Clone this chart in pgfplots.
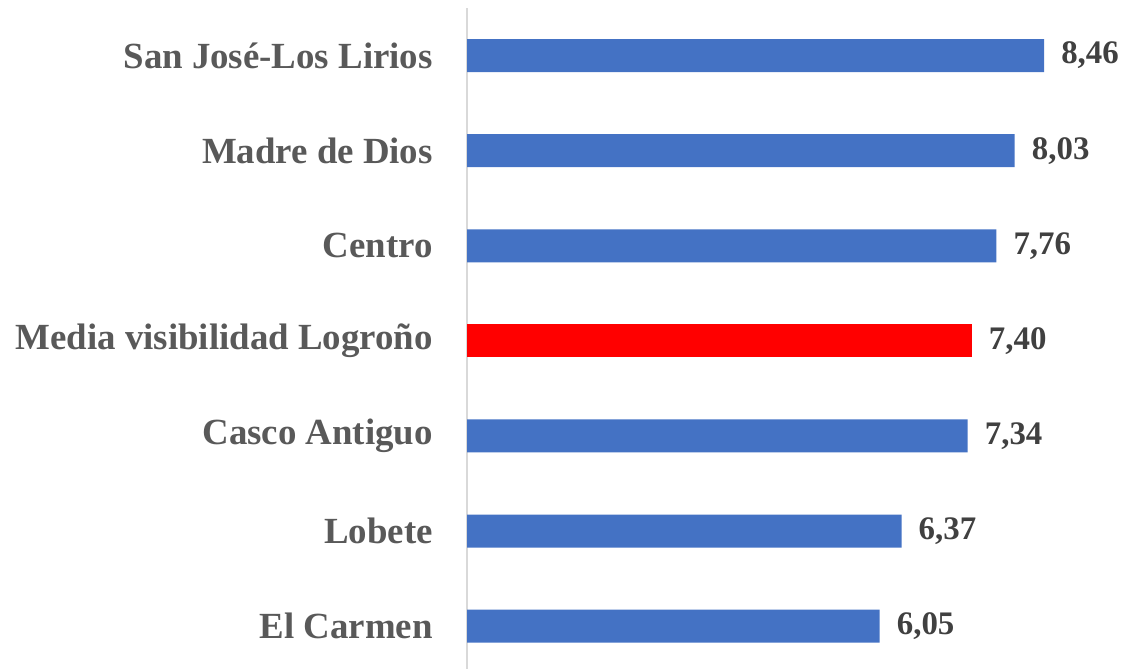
\documentclass[border=0pt]{standalone}
\usepackage{pgfplots}
\pgfplotsset{compat=1.18}
\usepackage{fontspec}
\setmainfont{Liberation Serif}
\definecolor{barblue}{HTML}{4472C4}
\definecolor{barred}{HTML}{FF0000}
\definecolor{labgray}{HTML}{595959}
\definecolor{valgray}{HTML}{404040}
\definecolor{axgray}{HTML}{D9D9D9}
\begin{document}
\begin{tikzpicture}
\begin{axis}[
  at={(467bp,0bp)}, anchor=south west,
  scale only axis, width=648bp, height=661bp,
  xbar, bar width=33bp, bar shift=0pt,
  xmin=0, xmax=9.5, ymin=-0.45, ymax=6.5,
  axis x line=none, axis y line*=left,
  y axis line style={draw=axgray, line width=1.5bp, -},
  ytick={0,1,2,3,4,5,6},
  yticklabels={El Carmen, Lobete, Casco Antiguo, Media visibilidad Logroño, Centro, Madre de Dios, San José-Los Lirios},
  major tick length=0pt, ytick style={draw=none},
  yticklabel style={font=\fontsize{37}{44}\selectfont\bfseries, text=labgray, anchor=east, inner sep=0pt, xshift=-34bp},
  nodes near coords,
  point meta=x,
  nodes near coords style={font=\fontsize{33}{40}\selectfont\bfseries, text=valgray, anchor=west, inner sep=0pt, xshift=17bp,
    /pgf/number format/.cd, fixed, fixed zerofill, precision=2, use comma, assume math mode=true},
  clip=false,
]
\addplot[fill=barblue, draw=none] coordinates {(8.46,6) (8.03,5) (7.76,4) (7.34,2) (6.37,1) (6.05,0)};
\addplot[fill=barred, draw=none] coordinates {(7.40,3)};
\end{axis}
\pgfresetboundingbox
\path (0,0) rectangle (1127bp,669bp);
\end{tikzpicture}
\end{document}
